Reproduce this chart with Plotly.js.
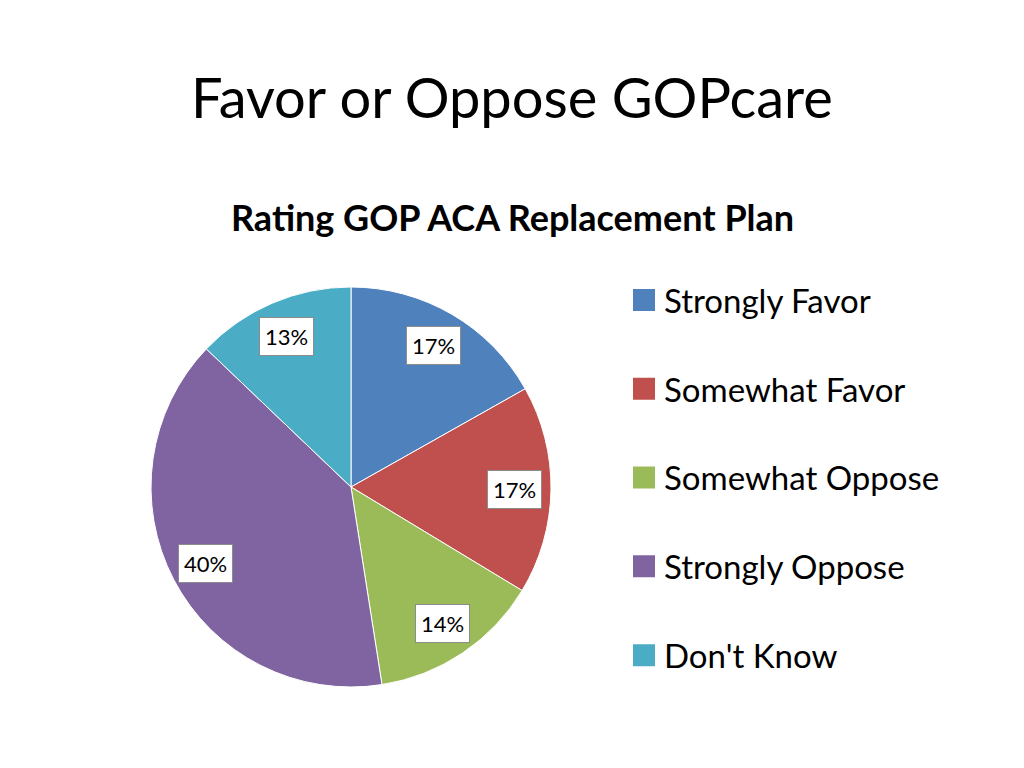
<!DOCTYPE html>
<html>
<head>
<meta charset="utf-8">
<script src="https://cdn.plot.ly/plotly-3.0.1.min.js"></script>
<style>
  html, body { margin: 0; padding: 0; background: #fff; }
  #chart { width: 1024px; height: 768px; }
  .legendpie { transform: translate(20px, 0px) scale(2); }
</style>
</head>
<body>
<div id="chart"></div>
<script>
const categories = ["Strongly Favor", "Somewhat Favor", "Somewhat Oppose", "Strongly Oppose", "Don't Know"];
const values = [17, 17, 14, 40, 13];
const colors = ["#4F81BD", "#C0504D", "#9BBB59", "#8064A2", "#4BACC6"];
const mainTitle = "Favor or Oppose GOPcare";
const subTitle = "Rating GOP ACA Replacement Plan";

const W = 1024, H = 768;
const FONT = "Lato, 'Open Sans', sans-serif";

// pie placement (pixels)
const pieCx = 351, pieCy = 487, pieR = 200;
const domX = [(pieCx - pieR) / W, (pieCx + pieR) / W];
const domY = [1 - (pieCy + pieR) / H, 1 - (pieCy - pieR) / H];

// label annotations placed from the data (mid-angle of each slice)
const total = values.reduce((a, b) => a + b, 0);
const labelAnns = [];
let cum = 0;
values.forEach((v, i) => {
  const mid = (cum + v / 2) / total * 2 * Math.PI; // clockwise from 12 o'clock
  cum += v;
  const rr = 0.82 * pieR;
  const px = pieCx + rr * Math.sin(mid);
  const py = pieCy - rr * Math.cos(mid);
  labelAnns.push({
    xref: "paper", yref: "paper",
    x: px / W, y: 1 - py / H,
    xanchor: "center", yanchor: "middle",
    text: Math.round(v / total * 100) + "%",
    showarrow: false,
    font: { family: FONT, size: 22, color: "#000" },
    bgcolor: "#fff",
    bordercolor: "#8c8c8c",
    borderwidth: 1,
    borderpad: 5
  });
});

const trace = {
  type: "pie",
  labels: categories.map(c => c + "<br> "),
  values: values,
  marker: { colors: colors, line: { color: "#ffffff", width: 1 } },
  sort: false,
  direction: "clockwise",
  rotation: 0,
  textinfo: "none",
  hoverinfo: "label+percent",
  domain: { x: domX, y: domY }
};

const layout = {
  width: W, height: H,
  margin: { l: 0, r: 0, t: 0, b: 0 },
  paper_bgcolor: "#fff",
  title: {
    text: mainTitle,
    font: { family: FONT, size: 56, color: "#000" },
    x: 0.5, xanchor: "center",
    y: 1 - 98 / H, yanchor: "middle", yref: "paper"
  },
  showlegend: true,
  legend: {
    x: 624 / W, xanchor: "left",
    y: 1 - 272 / H, yanchor: "top",
    font: { family: FONT, size: 33, color: "#000" },
    valign: "top",
    bgcolor: "rgba(0,0,0,0)"
  },
  annotations: [
    {
      xref: "paper", yref: "paper",
      x: 0.5, y: 1 - 217 / H,
      xanchor: "center", yanchor: "middle",
      text: "<b>" + subTitle + "</b>",
      showarrow: false,
      font: { family: FONT, size: 36, color: "#000" }
    }
  ].concat(labelAnns)
};

Plotly.newPlot("chart", [trace], layout, { displayModeBar: false, staticPlot: true });
</script>
</body>
</html>
